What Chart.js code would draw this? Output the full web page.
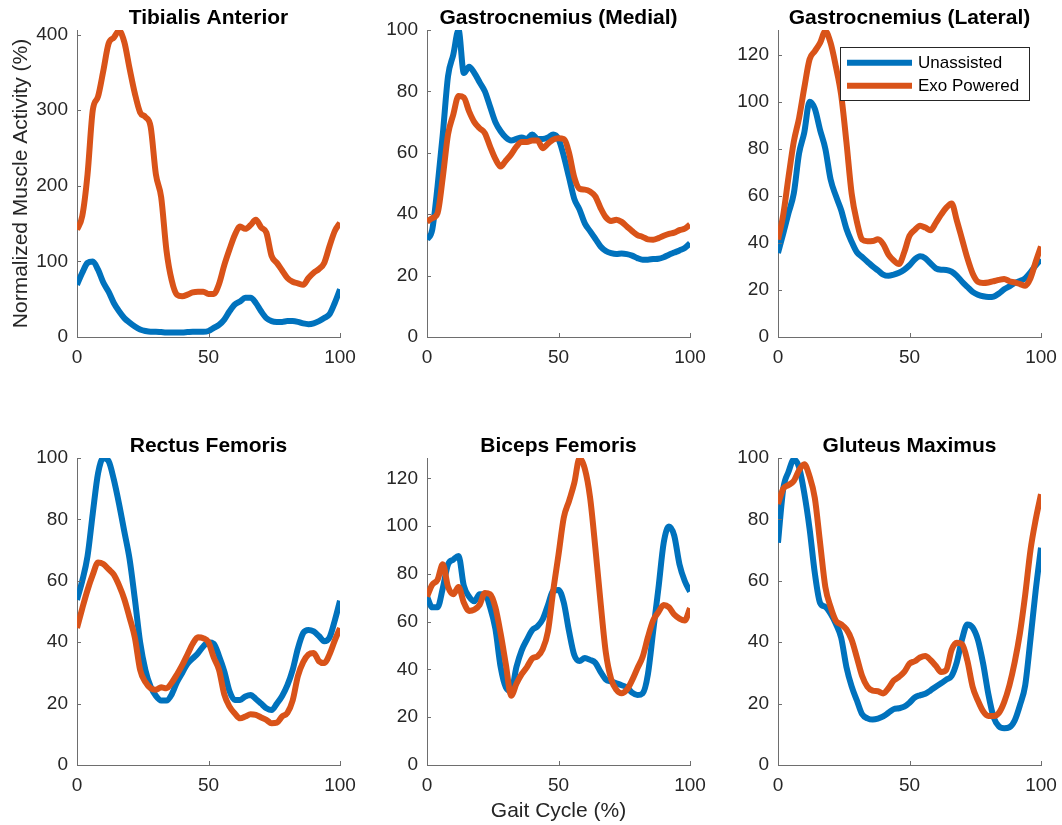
<!DOCTYPE html>
<html>
<head>
<meta charset="utf-8">
<script src="https://cdn.jsdelivr.net/npm/chart.js@4.4.1/dist/chart.umd.min.js"></script>
<style>
  html, body { margin:0; padding:0; background:#ffffff; width:1062px; height:825px; overflow:hidden; }
  canvas { position:absolute; }
</style>
</head>
<body>
<canvas id="c0"></canvas>
<canvas id="c1"></canvas>
<canvas id="c2"></canvas>
<canvas id="c3"></canvas>
<canvas id="c4"></canvas>
<canvas id="c5"></canvas>
<script>
// ---------------- DATA ----------------
const gait = [0,2,4,6,8,10,12,14,16,18,20,22,24,26,28,30,32,34,36,38,40,42,44,46,48,50,52,54,56,58,60,62,64,66,68,70,72,74,76,78,80,82,84,86,88,90,92,94,96,98,100];
const seriesNames = ['Unassisted', 'Exo Powered'];
const muscles = ['Tibialis Anterior', 'Gastrocnemius (Medial)', 'Gastrocnemius (Lateral)', 'Rectus Femoris', 'Biceps Femoris', 'Gluteus Maximus'];
const yAxisLabel = 'Normalized Muscle Activity (%)';
const xAxisLabel = 'Gait Cycle (%)';

const taUnassisted = [69,85,98,100,89,72,60,45,34,25,19,14,10,8,7,7,6.5,6,6,6,6,6.5,7,7,7,8,12,16,23,34,43,47,52,52,45,34,25,21,20,20,21,21,20,18,17,18,21,25,30,45,63];
const taExo        = [142,160,215,300,318,352,388,396,405,390,355,322,297,291,278,215,185,115,75,56,54,56,59,60,60,57,57,70,95,116,135,146,143,148,155,145,138,107,98,88,78,73,71,69,78,85,90,98,120,140,151];

const gmUnassisted = [31.7,35,49,66,85,92,100,86,88,86,83,80,75,70,67,65,64,64.5,65,64.5,66,64.5,64.5,65,66,64.5,59,52,45,41.5,37,34.5,32,29.5,28,27.3,27,27.2,27,26.5,25.7,25.2,25.2,25.4,25.5,26,26.8,27.5,28.2,29,30.5];
const gmExo        = [37.6,38.7,40.3,52,66,72.5,78.5,78,73.5,70,68,66.4,62,58,55.5,57.5,59.5,62,63.5,63.5,64,64,61.5,63,64.3,64.7,64.5,60,52,48.3,48,47.4,45.8,42,39,37.8,38.2,37.5,36,34.5,33.2,32.6,31.8,31.7,32.2,33,33.6,34,34.8,35.3,36.6];

const glUnassisted = [35.7,44,52.7,61,78,87,100,97,88,80,67,60,54,46,40.5,36,34,32,30,28.3,26.5,26,26.5,27.3,28.6,30.5,33,34.3,33.5,31.3,29.2,28.6,28.5,27.8,26,23.5,21.3,19.2,18,17.3,17,17.2,18.5,20.3,21.5,23,23.8,25,27.5,30.5,33];
const glExo        = [41.4,52,68,83,93,106,118,121.5,125,130,125,115,103,83,61,49,41.4,40.7,40.8,41.5,39.5,35,32.5,31,36,43,45.5,47.3,46.5,45.4,48.5,52,55,56.8,49.5,41.5,33.5,27,23.5,23,23.2,23.7,24.3,24.7,23.7,23.2,22.5,21.8,25,32,38.5];

const rfUnassisted = [53.8,60,68,82,95,100,99,93,85,76,67,54,40,31,25.5,22.5,21,21,23,27,30,33,34.7,36.4,38.6,40,39.5,35.5,30.5,24,21.2,21.2,22.3,22.8,21.5,20,18.5,17.9,20,22.5,26,31,38,43,44,43.5,42,40.3,41.5,47,53.5];
const rfExo        = [44.6,51,57,62,66,65.5,63.8,62,58.5,54,48,41.5,31,27,25,24.5,25.3,25,26.8,29.5,32.5,36,39.5,41.6,41.3,40,35,31,23,19,16.8,15.2,15.8,16.5,16.3,15.5,14.7,13.6,13.8,15.8,17,21,29,33.5,36,36.5,33.8,33.2,36,40.5,44.6];

const bfUnassisted = [70.5,66,66,74,84,86,87.5,75,70.5,68.5,71.5,71.5,66,57,41,32.5,31,41,48,52.5,56.5,58,61,67,73,73.3,68,56,46,43.5,44.8,44,42.8,39,35.8,35,34.2,33.4,32.5,30.3,29.3,30,38,56,74,93,99.8,96,84,77,72.6];
const bfExo        = [70.5,75.5,77.5,84,74.6,71.5,74.5,68,64.5,65,67,72,71.5,66,55,42,29,34,38,41,44.6,45.5,48.5,56,73,88,103.5,110.5,118,128.4,124,112,91,68,47,36,31.5,30,31.5,35.5,40.5,45.3,53.5,60.5,64,67,66,63,61.3,60.5,65.6];

const gxUnassisted = [72.4,90,95.5,99.5,97,88.5,77,62.5,52.8,51.5,49.3,46,41.5,32,25.6,21,16.5,15.2,14.8,15.1,15.8,17,18.2,18.5,19,20.3,22,22.7,23.2,24.3,25.5,26.6,27.8,29,33.5,41,45.8,44.8,40.8,33,23,15.5,12.6,12,12.3,14.5,19.5,26,41,57,70.8];
const gxExo        = [85,90,91.2,92.5,96,98,94,87,72.4,58,51.5,47,45.8,44.2,40.8,35,29,25.5,24.2,24,23.3,25,27.5,28.7,30.3,33,33.8,35,35.5,34.2,32.3,30.3,31,37.5,39.8,39.3,34,25.5,21,17.5,16,16,17,20.5,26,33.5,43,55.5,70,80,88.2];

const xTickValues   = [0, 50, 100];
const yTicksTA      = [0, 100, 200, 300, 400];
const yTicksTo100   = [0, 20, 40, 60, 80, 100];
const yTicksTo120   = [0, 20, 40, 60, 80, 100, 120];
const yLimits       = [406, 100, 130.5, 100, 128.5, 100];

const unassistedSets = [taUnassisted, gmUnassisted, glUnassisted, rfUnassisted, bfUnassisted, gxUnassisted];
const exoSets        = [taExo, gmExo, glExo, rfExo, bfExo, gxExo];
const yTickSets      = [yTicksTA, yTicksTo100, yTicksTo120, yTicksTo100, yTicksTo120, yTicksTo100];

// ---------------- LAYOUT / STYLE ----------------
const FONT = '"Liberation Sans", Arial, Helvetica, sans-serif';
const BLUE = '#0072BD', ORANGE = '#D95319';
const AXIS = '#6e6e6e', TEXT = '#262626';
const PLOT_W = 263, PLOT_H = 307;
const M_LEFT = 77, M_TOP = 30, M_BOTTOM = 60, M_RIGHT = 20;
const colLeft = [77, 427, 778];
const rowTop = [30, 458];

Chart.defaults.font.family = FONT;

const inwardTicks = {
  id: 'inwardTicks',
  afterDatasetsDraw(chart) {
    const { ctx, chartArea: a, scales: { x, y } } = chart;
    ctx.save();
    ctx.strokeStyle = AXIS;
    ctx.lineWidth = 1;
    ctx.beginPath();
    x.ticks.forEach(t => {
      const p = Math.round(x.getPixelForValue(t.value)) + 0.5;
      ctx.moveTo(p, a.bottom); ctx.lineTo(p, a.bottom - 4);
    });
    y.ticks.forEach(t => {
      const p = Math.round(y.getPixelForValue(t.value)) + 0.5;
      ctx.moveTo(a.left, p); ctx.lineTo(a.left + 4, p);
    });
    ctx.stroke();
    ctx.restore();
  }
};

const boxLegend = {
  id: 'boxLegend',
  afterDatasetsDraw(chart, args, opts) {
    if (!opts || !opts.show) return;
    const { ctx, chartArea: a } = chart;
    const x0 = Math.round(a.left + 62), y0 = Math.round(a.top + 17), w = 189, h = 53;
    ctx.save();
    ctx.fillStyle = '#ffffff';
    ctx.fillRect(x0, y0, w, h);
    ctx.strokeStyle = TEXT;
    ctx.lineWidth = 1;
    ctx.strokeRect(x0 + 0.5, y0 + 0.5, w, h);
    chart.data.datasets.forEach((ds, i) => {
      const ly = y0 + 15.7 + i * 23;
      ctx.strokeStyle = ds.borderColor;
      ctx.lineWidth = ds.borderWidth;
      ctx.lineCap = 'butt';
      ctx.beginPath();
      ctx.moveTo(x0 + 7, ly); ctx.lineTo(x0 + 72, ly);
      ctx.stroke();
      ctx.fillStyle = '#000000';
      ctx.font = '17px ' + FONT;
      ctx.textBaseline = 'middle';
      ctx.textAlign = 'left';
      ctx.fillText(ds.label, x0 + 78, ly + 1);
    });
    ctx.restore();
  }
};

function makeChart(i) {
  const canvas = document.getElementById('c' + i);
  const col = i % 3, row = Math.floor(i / 3);
  const W = M_LEFT + PLOT_W + M_RIGHT, H = M_TOP + PLOT_H + M_BOTTOM;
  canvas.width = W; canvas.height = H;
  canvas.style.width = W + 'px'; canvas.style.height = H + 'px';
  canvas.style.left = (colLeft[col] - M_LEFT) + 'px';
  canvas.style.top = (rowTop[row] - M_TOP) + 'px';

  const toPts = arr => gait.map((g, k) => ({ x: g, y: arr[k] }));
  const lineStyle = { pointRadius: 0, borderWidth: 6, borderJoinStyle: 'round', cubicInterpolationMode: 'monotone', fill: false };

  new Chart(canvas, {
    type: 'line',
    data: {
      datasets: [
        Object.assign({ label: seriesNames[0], data: toPts(unassistedSets[i]), borderColor: BLUE, backgroundColor: BLUE, order: 1 }, lineStyle),
        Object.assign({ label: seriesNames[1], data: toPts(exoSets[i]), borderColor: ORANGE, backgroundColor: ORANGE, order: 0 }, lineStyle)
      ]
    },
    options: {
      responsive: false,
      animation: false,
      devicePixelRatio: 1,
      events: [],
      layout: { padding: { left: 0, right: M_RIGHT, top: 0, bottom: 0 } },
      plugins: {
        legend: { display: false },
        tooltip: { enabled: false },
        title: {
          display: true, text: muscles[i], color: '#000000', fullSize: false,
          font: { size: 21, weight: 'bold', lineHeight: 1 },
          padding: { top: 8, bottom: 1 }
        },
        boxLegend: { show: i === 2 }
      },
      scales: {
        x: {
          type: 'linear', min: 0, max: 100,
          afterBuildTicks: s => { s.ticks = xTickValues.map(v => ({ value: v })); },
          afterFit: s => { s.height = M_BOTTOM; s.paddingLeft = 0; s.paddingRight = 0; },
          ticks: { color: TEXT, font: { size: 19 }, padding: 9.5, maxRotation: 0, autoSkip: false },
          grid: { display: false, drawTicks: false },
          border: { display: true, color: AXIS, width: 1 },
          title: { display: i === 4, text: xAxisLabel, color: TEXT, font: { size: 21, lineHeight: 1 }, padding: { top: 0, bottom: 3.5 } }
        },
        y: {
          type: 'linear', min: 0, max: yLimits[i],
          afterBuildTicks: s => { s.ticks = yTickSets[i].map(v => ({ value: v })); },
          afterFit: s => { s.width = M_LEFT; s.paddingTop = 0; s.paddingBottom = 0; },
          ticks: { color: TEXT, font: { size: 19 }, padding: 9, autoSkip: false },
          grid: { display: false, drawTicks: false },
          border: { display: true, color: AXIS, width: 1 },
          title: { display: i === 0, text: yAxisLabel, color: TEXT, font: { size: 21, lineHeight: 1 }, padding: { top: 11, bottom: 0 } }
        }
      }
    },
    plugins: [inwardTicks, boxLegend]
  });
}

for (let i = 0; i < 6; i++) makeChart(i);
</script>
</body>
</html>
